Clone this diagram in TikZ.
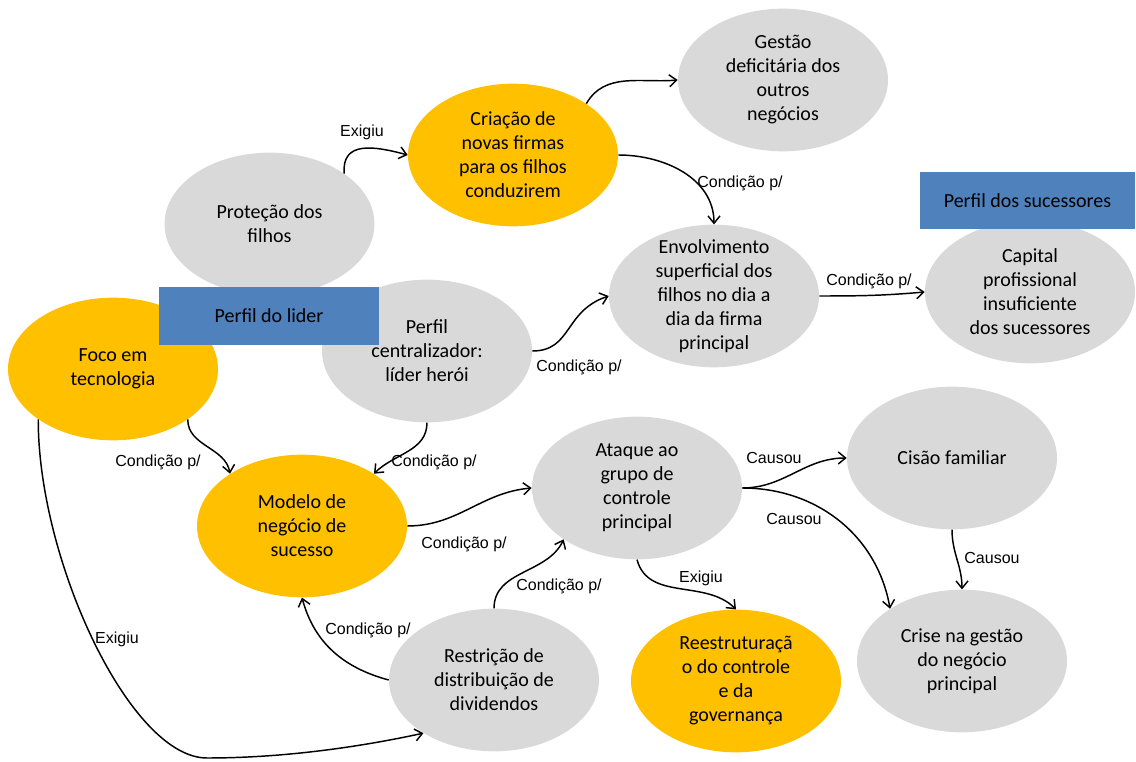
\documentclass[tikz,border=0pt]{standalone}
\usepackage{fontspec}
\setmainfont{Carlito}
\newfontfamily\lblfont{Liberation Sans}
\usetikzlibrary{arrows.meta,shapes.geometric}
\definecolor{cinza}{HTML}{D9D9D9}
\definecolor{laranja}{HTML}{FFC000}
\definecolor{azul}{HTML}{4F81BD}
\begin{document}
\begin{tikzpicture}[x=0.75pt,y=-0.75pt,>={Straight Barb[length=5.5pt,width=9pt]},
  elip/.style={ellipse,inner sep=-20pt,minimum width=157.5pt,minimum height=107pt,align=center,font=\fontsize{15}{18}\selectfont},
  cinz/.style={elip,fill=cinza},
  lara/.style={elip,fill=laranja},
  caixa/.style={rectangle,fill=azul,minimum height=43pt,font=\fontsize{15}{18}\selectfont},
  rot/.style={font=\lblfont\fontsize{12}{14}\selectfont,inner sep=0pt},
  seta/.style={->,line width=1.1pt}]
  \useasboundingbox (0,0) rectangle (1136,762);
  % elipses
  \node[cinz] (gest) at (783,80) {Gestão\\deficitária dos\\outros\\negócios};
  \node[lara] (cria) at (513,155) {Criação de\\novas firmas\\para os filhos\\conduzirem};
  \node[cinz] (prot) at (269.5,224) {Proteção dos\\filhos};
  \node[lara] (foco) at (113,369) {Foco em\\tecnologia};
  \node[cinz] (perf) at (427,351) {Perfil\\centralizador:\\líder herói};
  \node[cinz] (envo) at (714,296) {Envolvimento\\superficial dos\\filhos no dia a\\dia da firma\\principal};
  \node[cinz] (capi) at (1030,292) {Capital\\profissional\\insuficiente\\dos sucessores};
  \node[lara] (mode) at (302,526) {Modelo de\\negócio de\\sucesso};
  \node[cinz] (atta) at (637,488) {Ataque ao\\grupo de\\controle\\principal};
  \node[cinz] (cisa) at (952,458) {Cisão familiar};
  \node[cinz] (cris) at (962,661) {Crise na gestão\\do negócio\\principal};
  \node[cinz] (rest) at (494,680) {Restrição de\\distribuição de\\dividendos};
  \node[lara] (rees) at (736,681) {Reestruturaçã\\o do controle\\e da\\governança};
  % caixas
  \node[caixa,minimum width=165pt] (lider) at (269,316) {Perfil do lider};
  \node[caixa,minimum width=161pt] (suces) at (1027.5,200.5) {Perfil dos sucessores};
  % setas
  \draw[seta] (prot.34) to[out=95,in=165,looseness=1.3] (cria.west);
  \draw[seta] (cria.35) to[out=60,in=185] (gest.west);
  \draw[seta] (cria.east) to[out=0,in=90] (envo.north);
  \draw[seta] (perf.east) .. controls +(40,0) and +(-45,15) .. (envo.west);
  \draw[seta] (envo.east) to[out=0,in=185] (capi.west);
  \draw[seta] (foco.-34) to[out=-90,in=100] (mode.144);
  \draw[seta] (perf.south) to[out=-90,in=45] (mode.36);
  \draw[seta] (mode.east) to[out=0,in=185] (atta.west);
  \draw[seta] (rest.west) to[out=165,in=-75] (mode.south);
  \draw[seta] (rest.north) to[out=90,in=-115] (atta.-145);
  \draw[seta] (foco.-146) .. controls (38,560) and (130,758) .. (207,758)
    .. controls (280,758) and (355,748) .. (rest.-143);
  \draw[seta] (atta.east) to[out=0,in=180] (cisa.west);
  \draw[seta] (atta.east) to[out=0,in=100] (cris.144);
  \draw[seta] (atta.south) to[out=-75,in=135] (rees.north);
  \draw[seta] (cisa.south) to[out=-90,in=90] (cris.north);
  % rotulos
  \node[rot] (lexig1) at (362,132) {Exigiu};
  \node[rot] (lcond1) at (740,183) {Condição p/};
  \node[rot] (lcond2) at (579,367) {Condição p/};
  \node[rot] (lcond3) at (869,281) {Condição p/};
  \node[rot] (lcond4) at (158,462) {Condição p/};
  \node[rot] (lcond5) at (434,462) {Condição p/};
  \node[rot] (lcond6) at (464,544) {Condição p/};
  \node[rot] (lcond7) at (368,630) {Condição p/};
  \node[rot] (lcond8) at (559,586) {Condição p/};
  \node[rot] (lexig2) at (117,639) {Exigiu};
  \node[rot] (lexig3) at (701,578) {Exigiu};
  \node[rot] (lcaus1) at (774,458) {Causou};
  \node[rot] (lcaus2) at (794,519) {Causou};
  \node[rot] (lcaus3) at (992,558) {Causou};
\end{tikzpicture}
\end{document}
